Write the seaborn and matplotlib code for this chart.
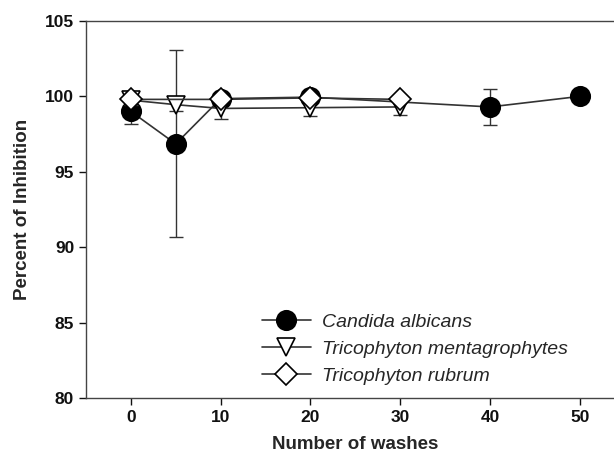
import matplotlib
matplotlib.use("Agg")
import matplotlib.pyplot as plt
import pandas as pd
import seaborn as sns

# data
candida_washes = [0, 5, 10, 20, 40, 50]
candida_inhib = [99.0, 96.85, 99.85, 99.95, 99.3, 100.0]
candida_err = [0.85, 6.2, 0.3, 0.2, 1.2, 0.1]

mentag_washes = [0, 5, 10, 20, 30]
mentag_inhib = [99.75, 99.45, 99.2, 99.25, 99.3]
mentag_err = [0.3, 0.4, 0.7, 0.55, 0.55]

rubrum_washes = [0, 10, 20, 30]
rubrum_inhib = [99.8, 99.8, 99.9, 99.8]
rubrum_err = [0.2, 0.2, 0.2, 0.2]

series = [
    ("Candida albicans", candida_washes, candida_inhib, candida_err, "o", "black", 14),
    ("Tricophyton mentagrophytes", mentag_washes, mentag_inhib, mentag_err, "v", "white", 13.5),
    ("Tricophyton rubrum", rubrum_washes, rubrum_inhib, rubrum_err, "D", "white", 11.5),
]

sns.set_style("ticks")
plt.rcParams["font.family"] = ["Liberation Sans", "DejaVu Sans"]

fig = plt.figure(figsize=(6.14, 4.61), dpi=100)
# right edge of the axes runs off the figure, as in the cropped original
ax = fig.add_axes([0.140, 0.1367, 0.8775, 0.8178])

line_col = "#333333"
for i, (name, x, y, err, mk, fc, ms) in enumerate(series):
    df = pd.DataFrame({"washes": x, "inhibition": y})
    ax.errorbar(x, y, yerr=err, fmt="none", ecolor=line_col, elinewidth=1.0,
                capsize=5, capthick=1.0, zorder=2 + i * 2)
    sns.lineplot(data=df, x="washes", y="inhibition", ax=ax, color=line_col,
                 linewidth=1.2, marker=mk, markersize=ms, markerfacecolor=fc,
                 markeredgecolor="black", markeredgewidth=1.2, label=name,
                 zorder=3 + i * 2)

ax.set_xlim(-5, 55)
ax.set_ylim(80, 105)
ax.set_xticks([0, 10, 20, 30, 40, 50])
ax.set_yticks([80, 85, 90, 95, 100, 105])
ax.tick_params(direction="out", length=5, width=1, labelsize=12.5, colors="#111111")
for lab in ax.get_xticklabels() + ax.get_yticklabels():
    lab.set_fontweight("bold")
for side in ["left", "bottom", "top"]:
    ax.spines[side].set_visible(True)
    ax.spines[side].set_color("#444444")
    ax.spines[side].set_linewidth(1.0)
ax.spines["right"].set_visible(False)

ax.set_xlabel("Number of washes", fontsize=13.5, fontweight="bold", labelpad=8)
ax.set_ylabel("Percent of Inhibition", fontsize=13.5, fontweight="bold", labelpad=10)

leg = ax.legend(loc="upper left", bbox_to_anchor=(0.4267, 0.321),
                bbox_transform=fig.transFigure, frameon=False,
                prop={"size": 14, "style": "italic"}, handlelength=2.5,
                handletextpad=0.6, labelspacing=0.5, borderpad=0,
                borderaxespad=0)

fig.savefig("out.png", dpi=100)
